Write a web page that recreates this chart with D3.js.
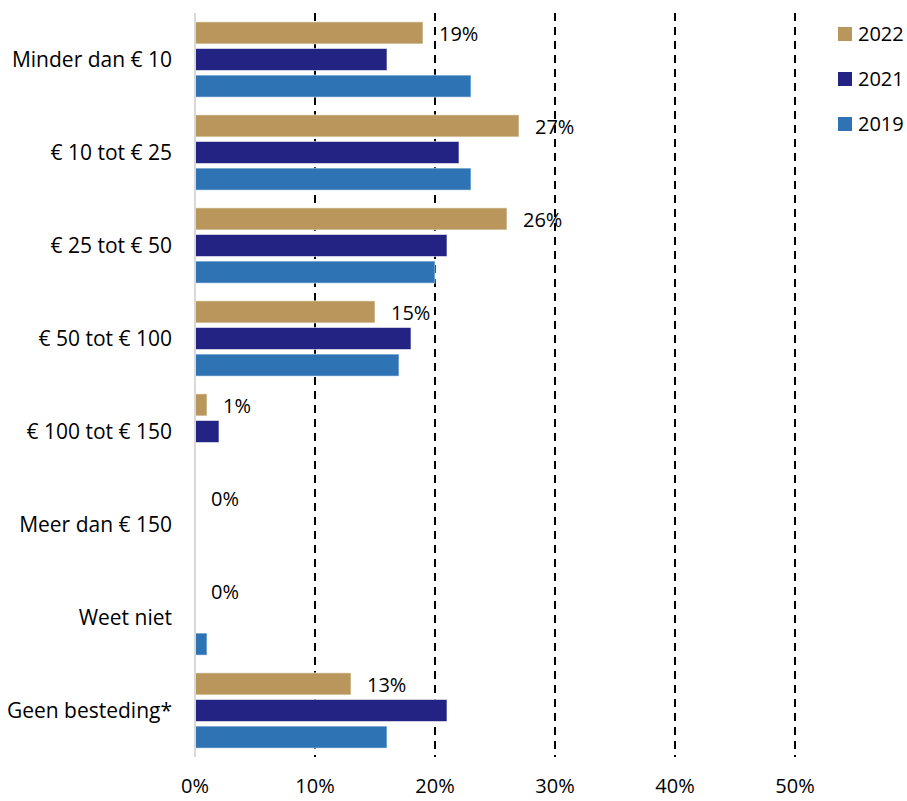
<!DOCTYPE html>
<html>
<head>
<meta charset="utf-8">
<script src="https://cdn.jsdelivr.net/npm/d3@7"></script>
<style>
  body { margin: 0; background: #fff; }
  text { font-family: "Open Sans", "Liberation Sans", sans-serif; fill: #000; }
</style>
</head>
<body>
<script>
// categories and series values (percent)
const categories = ["Minder dan € 10", "€ 10 tot € 25", "€ 25 tot € 50", "€ 50 tot € 100",
  "€ 100 tot € 150", "Meer dan € 150", "Weet niet", "Geen besteding*"];
const years = ["2022", "2021", "2019"];
const values2022 = [19, 27, 26, 15, 1, 0, 0, 13];
const values2021 = [16, 22, 21, 18, 2, 0, 0, 21];
const values2019 = [23, 23, 20, 17, 0, 0, 1, 16];
const colors = ["#B8965C", "#232384", "#2E74B5"];
const ticks = [0, 10, 20, 30, 40, 50];

const width = 907, height = 801;
const seriesValues = [values2022, values2021, values2019];

const svg = d3.select("body").append("svg")
  .attr("width", width)
  .attr("height", height);

const x = d3.scaleLinear().domain([0, 50]).range([195, 795]);

const y0 = d3.scaleBand()
  .domain(categories)
  .range([13, 757])
  .paddingInner(0.19)
  .paddingOuter(0.095);

const y1 = d3.scaleBand()
  .domain(years)
  .range([0, y0.bandwidth()])
  .paddingInner(0.17);

// dashed gridlines
svg.append("g")
  .selectAll("line")
  .data(ticks.filter(t => t > 0))
  .join("line")
    .attr("x1", d => x(d))
    .attr("x2", d => x(d))
    .attr("y1", 13)
    .attr("y2", 757)
    .attr("stroke", "#000")
    .attr("stroke-width", 2)
    .attr("stroke-dasharray", "8,6");

// bars
const groups = svg.append("g")
  .selectAll("g")
  .data(categories)
  .join("g")
    .attr("transform", d => `translate(0,${y0(d)})`);

groups.selectAll("rect")
  .data((d, i) => years.map((yr, j) => ({year: yr, value: seriesValues[j][i], color: colors[j]})))
  .join("rect")
    .filter(d => d.value > 0)
    .attr("x", x(0))
    .attr("y", d => y1(d.year))
    .attr("width", d => x(d.value) - x(0))
    .attr("height", y1.bandwidth())
    .attr("fill", d => d.color)
    .attr("stroke", "#fff")
    .attr("stroke-opacity", 0.6)
    .attr("stroke-width", 1);

// data labels for 2022
groups.append("text")
  .attr("x", (d, i) => x(values2022[i]) + 16)
  .attr("y", y1("2022") + y1.bandwidth() / 2 + 1.5)
  .attr("dy", "0.35em")
  .attr("font-size", 20)
  .text((d, i) => values2022[i] + "%");

// vertical axis line
svg.append("line")
  .attr("x1", x(0)).attr("x2", x(0))
  .attr("y1", 13).attr("y2", 757)
  .attr("stroke", "#D9D9D9")
  .attr("stroke-width", 2);

// category labels
svg.append("g")
  .selectAll("text")
  .data(categories)
  .join("text")
    .attr("x", 172)
    .attr("y", d => y0(d) + y0.bandwidth() / 2)
    .attr("dy", "0.35em")
    .attr("text-anchor", "end")
    .attr("font-size", 21)
    .text(d => d);

// x tick labels
svg.append("g")
  .selectAll("text")
  .data(ticks)
  .join("text")
    .attr("x", d => x(d))
    .attr("y", 786)
    .attr("dy", "0.35em")
    .attr("text-anchor", "middle")
    .attr("font-size", 20)
    .text(d => d + "%");

// legend
const legend = svg.append("g")
  .selectAll("g")
  .data(years)
  .join("g")
    .attr("transform", (d, i) => `translate(838,${34 + i * 45})`);

legend.append("rect")
  .attr("x", 0).attr("y", -7)
  .attr("width", 14).attr("height", 14)
  .attr("fill", (d, i) => colors[i]);

legend.append("text")
  .attr("x", 20)
  .attr("dy", "0.35em")
  .attr("font-size", 20)
  .text(d => d);
</script>
</body>
</html>
